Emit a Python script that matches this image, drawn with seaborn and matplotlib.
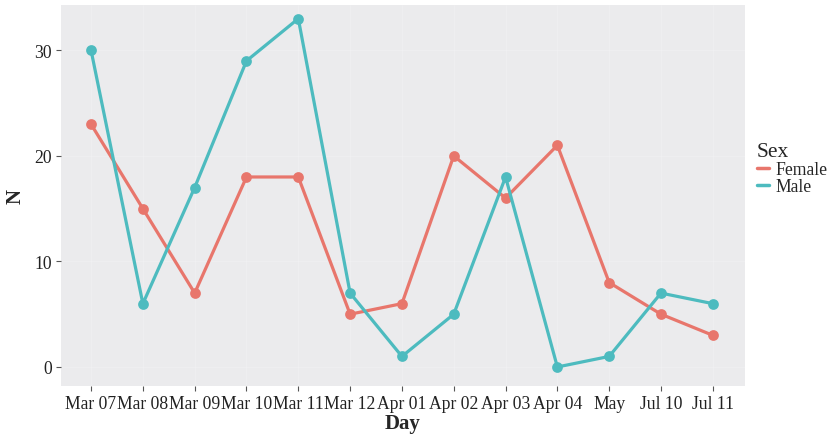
import pandas as pd
import matplotlib
matplotlib.use("Agg")
import matplotlib.pyplot as plt
import seaborn as sns
from matplotlib.lines import Line2D

days = ["Mar 07", "Mar 08", "Mar 09", "Mar 10", "Mar 11", "Mar 12", "Apr 01",
        "Apr 02", "Apr 03", "Apr 04", "May", "Jul 10", "Jul 11"]
female = [23, 15, 7, 18, 18, 5, 6, 20, 16, 21, 8, 5, 3]
male = [30, 6, 17, 29, 33, 7, 1, 5, 18, 0, 1, 7, 6]
sexes = ["Female", "Male"]
colors = {"Female": "#E8766C", "Male": "#4DBBBF"}


def build_frame() -> pd.DataFrame:
    df = pd.DataFrame({
        "Day": days * 2,
        "N": female + male,
        "Sex": ["Female"] * len(days) + ["Male"] * len(days),
    })
    return df


def plot_chart(df: pd.DataFrame):
    sns.set_style("white")
    plt.rcParams['font.family'] = ['Liberation Serif', 'DejaVu Serif']

    fig = plt.figure(figsize=(8.3, 4.39), dpi=100)
    ax = fig.add_axes([0.0735, 0.1185, 0.824, 0.868])
    ax.set_facecolor("#EBEBED")

    sns.pointplot(data=df, x="Day", y="N", hue="Sex", order=days, hue_order=sexes,
                  palette=colors, markers="o", markersize=6, linewidth=2.3,
                  errorbar=None, legend=False, ax=ax)

    ax.set_xlim(-0.58, len(days) - 1 + 0.62)
    ax.set_ylim(-1.8, 34.3)
    ax.set_yticks([0, 10, 20, 30])
    ax.grid(True, color="white", linewidth=0.6, alpha=0.2)
    ax.set_axisbelow(True)
    for s in ax.spines.values():
        s.set_visible(False)

    ax.tick_params(axis="both", length=3.5, width=0.8, color="#555555",
                   labelsize=12.7, labelcolor="#222222", pad=3)
    ax.tick_params(axis="x", bottom=True)
    ax.tick_params(axis="y", left=True)
    ax.set_xlabel("Day", fontsize=15, fontweight="bold", labelpad=1)
    ax.set_ylabel("N", fontsize=15, fontweight="bold", labelpad=6)

    handles = [Line2D([0], [0], color=colors[s], lw=2.5) for s in sexes]
    leg = fig.legend(handles, sexes, title="Sex", loc="upper left",
                     bbox_to_anchor=(0.903, 0.69), frameon=False,
                     fontsize=12.7, title_fontsize=15.5, handlelength=0.7,
                     handletextpad=0.4, labelspacing=0.0, borderaxespad=0)
    leg._legend_box.align = "left"

    fig.savefig("out.png", dpi=100)


def __main():
    df = build_frame()
    plot_chart(df)


if __name__ == '__main__':
    __main()
